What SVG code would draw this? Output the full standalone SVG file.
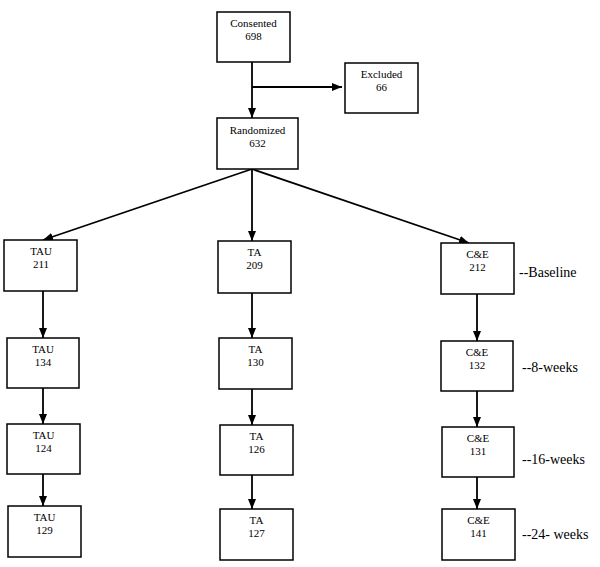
<svg xmlns="http://www.w3.org/2000/svg" width="600" height="567" viewBox="0 0 600 567">
<style>
.box{fill:#fff;stroke:#000;stroke-width:1.5}
.t{font-family:"Liberation Serif","Times New Roman",serif;font-size:11px;fill:#000;text-anchor:middle}
.lab{font-family:"Liberation Serif","Times New Roman",serif;font-size:14px;fill:#000}
.c{stroke:#000;stroke-width:1.8;fill:none;marker-end:url(#ah)}
</style>
<defs>
<marker id="ah" markerUnits="userSpaceOnUse" markerWidth="10" markerHeight="10" viewBox="0 0 10 10" refX="10" refY="5" orient="auto">
<path d="M0,1 L10,5 L0,9 Z" fill="#000"/>
</marker>
</defs>
<rect width="600" height="567" fill="#fff"/>
<g id="connectors">
<line class="c" x1="252" y1="62" x2="252" y2="118"/>
<line class="c" x1="252" y1="87" x2="342" y2="87"/>
<line class="c" x1="252" y1="169" x2="43" y2="240"/>
<line class="c" x1="252" y1="169" x2="252" y2="241"/>
<line class="c" x1="252" y1="169" x2="469" y2="243"/>
<line class="c" x1="43" y1="291" x2="43" y2="338"/>
<line class="c" x1="43" y1="388" x2="43" y2="424"/>
<line class="c" x1="43" y1="474" x2="43" y2="506"/>
<line class="c" x1="252" y1="293" x2="252" y2="338"/>
<line class="c" x1="252" y1="389" x2="252" y2="425"/>
<line class="c" x1="252" y1="475" x2="252" y2="509"/>
<line class="c" x1="477" y1="294" x2="477" y2="341"/>
<line class="c" x1="477" y1="391" x2="477" y2="427"/>
<line class="c" x1="477" y1="477" x2="477" y2="509"/>
</g>
<g id="consented"><rect class="box" x="217" y="12" width="73" height="50"/><text class="t" x="253.5" y="27">Consented</text><text class="t" x="253.5" y="40">698</text></g>
<g id="excluded"><rect class="box" x="345" y="63" width="73" height="50"/><text class="t" x="381.5" y="78">Excluded</text><text class="t" x="381.5" y="91">66</text></g>
<g id="randomized"><rect class="box" x="217" y="118" width="81" height="51"/><text class="t" x="257.5" y="134">Randomized</text><text class="t" x="257.5" y="147">632</text></g>
<g id="tau211"><rect class="box" x="4" y="240" width="73" height="51"/><text class="t" x="41" y="255">TAU</text><text class="t" x="41" y="268">211</text></g>
<g id="ta209"><rect class="box" x="218" y="241" width="73" height="52"/><text class="t" x="254.5" y="256">TA</text><text class="t" x="254.5" y="269">209</text></g>
<g id="ce212"><rect class="box" x="441" y="243" width="73" height="51"/><text class="t" x="477.5" y="258">C&amp;E</text><text class="t" x="477.5" y="271">212</text></g>
<g id="tau134"><rect class="box" x="7" y="338" width="72" height="50"/><text class="t" x="43" y="353">TAU</text><text class="t" x="43" y="366">134</text></g>
<g id="tau124"><rect class="box" x="7" y="424" width="73" height="50"/><text class="t" x="43.5" y="439">TAU</text><text class="t" x="43.5" y="452">124</text></g>
<g id="tau129"><rect class="box" x="8" y="506" width="73" height="51"/><text class="t" x="44.5" y="521">TAU</text><text class="t" x="44.5" y="534">129</text></g>
<g id="ta130"><rect class="box" x="219" y="338" width="73" height="51"/><text class="t" x="255.5" y="353">TA</text><text class="t" x="255.5" y="366">130</text></g>
<g id="ta126"><rect class="box" x="220" y="425" width="73" height="50"/><text class="t" x="256.5" y="440">TA</text><text class="t" x="256.5" y="453">126</text></g>
<g id="ta127"><rect class="box" x="220" y="509" width="73" height="51"/><text class="t" x="256.5" y="524">TA</text><text class="t" x="256.5" y="537">127</text></g>
<g id="ce132"><rect class="box" x="441" y="341" width="72" height="50"/><text class="t" x="477" y="356">C&amp;E</text><text class="t" x="477" y="369">132</text></g>
<g id="ce131"><rect class="box" x="442" y="427" width="72" height="50"/><text class="t" x="478" y="442">C&amp;E</text><text class="t" x="478" y="455">131</text></g>
<g id="ce141"><rect class="box" x="442" y="509" width="73" height="51"/><text class="t" x="478.5" y="524">C&amp;E</text><text class="t" x="478.5" y="537">141</text></g>
<g id="labels">
<text class="lab" x="519" y="277">--Baseline</text>
<text class="lab" x="522" y="372">--8-weeks</text>
<text class="lab" x="522" y="464">--16-weeks</text>
<text class="lab" x="522" y="539">--24- weeks</text>
</g>
</svg>
